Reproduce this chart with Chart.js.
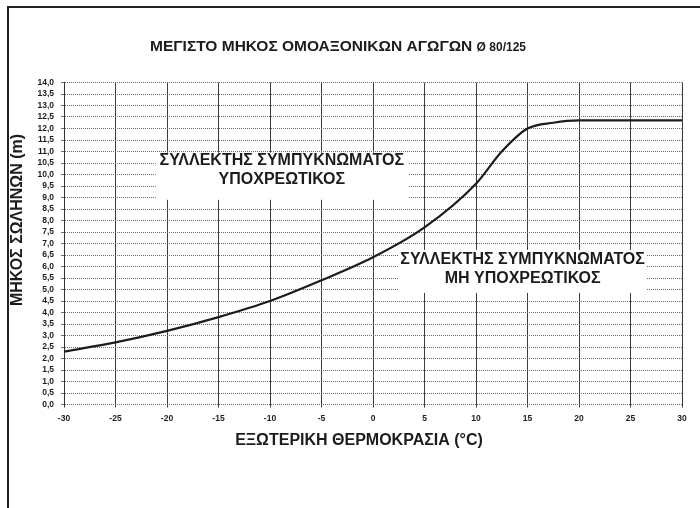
<!DOCTYPE html>
<html>
<head>
<meta charset="utf-8">
<script src="https://cdn.jsdelivr.net/npm/chart.js@4.4.1/dist/chart.umd.min.js"></script>
<style>
  html, body { margin: 0; padding: 0; background: #fff; }
  #wrap { width: 700px; height: 508px; }
</style>
</head>
<body>
<div id="wrap"><canvas id="lengthChart" width="700" height="508"></canvas></div>
<script>
const chartTitle = 'ΜΕΓΙΣΤΟ ΜΗΚΟΣ ΟΜΟΑΞΟΝΙΚΩΝ ΑΓΩΓΩΝ';
const chartSubTitle = 'Ø 80/125';
const xAxisTitle = 'ΕΞΩΤΕΡΙΚΗ ΘΕΡΜΟΚΡΑΣΙΑ (°C)';
const yAxisTitle = 'ΜΗΚΟΣ ΣΩΛΗΝΩΝ (m)';

// outdoor temperature (°C) -> max coaxial pipe length (m)
const temps   = [-30, -25, -20, -15, -10, -5, 0, 5, 10, 12.5, 15, 17.5, 20, 25, 30];
const lengths = [2.3, 2.7, 3.2, 3.8, 4.5, 5.4, 6.4, 7.7, 9.6, 11.0, 12.0, 12.25, 12.35, 12.35, 12.35];

const xTicks = [-30, -25, -20, -15, -10, -5, 0, 5, 10, 15, 20, 25, 30];
const yTicks = [0, 0.5, 1, 1.5, 2, 2.5, 3, 3.5, 4, 4.5, 5, 5.5, 6, 6.5, 7, 7.5, 8, 8.5, 9, 9.5, 10, 10.5, 11, 11.5, 12, 12.5, 13, 13.5, 14];

const zoneRequired    = ['ΣΥΛΛΕΚΤΗΣ ΣΥΜΠΥΚΝΩΜΑΤΟΣ', 'ΥΠΟΧΡΕΩΤΙΚΟΣ'];
const zoneNotRequired = ['ΣΥΛΛΕΚΤΗΣ ΣΥΜΠΥΚΝΩΜΑΤΟΣ', 'ΜΗ ΥΠΟΧΡΕΩΤΙΚΟΣ'];

const FONT = '"Liberation Sans", Arial, sans-serif';
const TICK_FONT = '"Liberation Sans Narrow", "Liberation Sans", Arial, sans-serif';
const INK = '#1c1c1c';

// white label boxes, placed in axis units
const zones = [
  { lines: zoneRequired,    x0: -21.1, x1: 3.4,  y0: 10.95, y1: 8.9,  ly: [10.6, 9.8] },
  { lines: zoneNotRequired, x0: 2.45,  x1: 26.6, y0: 6.72,  y1: 4.85, ly: [6.28, 5.49] }
];

const decor = {
  id: 'decor',
  beforeDraw(chart) {
    const ctx = chart.ctx;
    ctx.save();
    ctx.fillStyle = '#fff';
    ctx.fillRect(0, 0, chart.width, chart.height);
    // page frame: left and top edges only
    ctx.strokeStyle = '#222';
    ctx.lineWidth = 2;
    ctx.beginPath();
    ctx.moveTo(8, chart.height);
    ctx.lineTo(8, 7);
    ctx.lineTo(chart.width, 7);
    ctx.stroke();
    ctx.restore();
  },
  afterDatasetsDraw(chart) {
    const ctx = chart.ctx;
    const xs = chart.scales.x, ys = chart.scales.y;
    ctx.save();
    zones.forEach(z => {
      const l = xs.getPixelForValue(z.x0), r = xs.getPixelForValue(z.x1);
      const t = ys.getPixelForValue(z.y0), b = ys.getPixelForValue(z.y1);
      ctx.fillStyle = '#fff';
      ctx.fillRect(l, t, r - l, b - t);
      ctx.fillStyle = INK;
      ctx.font = 'bold 16px ' + FONT;
      ctx.textAlign = 'center';
      ctx.textBaseline = 'middle';
      z.lines.forEach((txt, i) => {
        ctx.fillText(txt, (l + r) / 2, ys.getPixelForValue(z.ly[i]));
      });
    });
    ctx.restore();
  },
  afterDraw(chart) {
    const ctx = chart.ctx;
    ctx.save();
    ctx.fillStyle = INK;
    ctx.textBaseline = 'middle';
    // main title with smaller diameter suffix
    const f1 = 'bold 15.5px ' + FONT, f2 = 'bold 12px ' + FONT;
    ctx.font = f1;
    const w1 = ctx.measureText(chartTitle + ' ').width;
    ctx.font = f2;
    const w2 = ctx.measureText(chartSubTitle).width;
    const x = 338 - (w1 + w2) / 2;
    ctx.textAlign = 'left';
    ctx.font = f1;
    ctx.fillText(chartTitle + ' ', x, 47);
    ctx.font = f2;
    ctx.fillText(chartSubTitle, x + w1, 48);
    // horizontal axis title, slightly left of the plot centre
    ctx.textAlign = 'center';
    ctx.font = 'bold 16px ' + FONT;
    ctx.fillText(xAxisTitle, 359, 441);
    // vertical axis title
    ctx.translate(18, 220);
    ctx.rotate(-Math.PI / 2);
    ctx.fillText(yAxisTitle, 0, 0);
    ctx.restore();
  }
};

const ctx = document.getElementById('lengthChart').getContext('2d');
const chart = new Chart(ctx, {
  type: 'line',
  data: {
    datasets: [{
      data: temps.map((t, i) => ({ x: t, y: lengths[i] })),
      borderColor: INK,
      borderWidth: 2.2,
      pointRadius: 0,
      cubicInterpolationMode: 'monotone',
      fill: false
    }]
  },
  options: {
    responsive: false,
    animation: false,
    layout: { padding: { top: 82.5, right: 18, left: 0, bottom: 0 } },
    plugins: { legend: { display: false }, tooltip: { enabled: false }, title: { display: false } },
    scales: {
      x: {
        type: 'linear',
        min: -30, max: 30,
        afterBuildTicks: s => { s.ticks = xTicks.map(v => ({ value: v })); },
        afterFit: s => { s.height = 103.5; },
        grid: { color: '#3c3c3c', lineWidth: 1, tickLength: 3 },
        border: { display: false },
        ticks: {
          color: INK, padding: 6, maxRotation: 0, autoSkip: false,
          font: { family: TICK_FONT, size: 8.5, weight: 'bold' }
        }
      },
      y: {
        min: 0, max: 14,
        afterBuildTicks: s => { s.ticks = yTicks.map(v => ({ value: v })); },
        afterFit: s => { s.width = 64; },
        grid: { color: '#6a6a6a', lineWidth: 1, tickLength: 3 },
        border: { display: true, color: '#333', width: 1, dash: [1, 1] },
        ticks: {
          color: INK, padding: 7, autoSkip: false,
          font: { family: TICK_FONT, size: 8.5, weight: 'bold' },
          callback: v => v.toFixed(1).replace('.', ',')
        }
      }
    }
  },
  plugins: [decor]
});
</script>
</body>
</html>
